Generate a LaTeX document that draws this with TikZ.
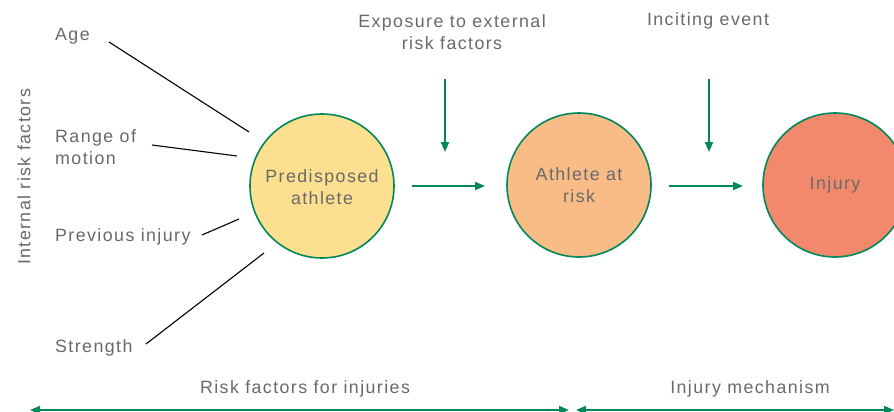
\documentclass[tikz,border=0pt]{standalone}
\usepackage{fontspec}
\setmainfont[LetterSpace=8]{Liberation Sans}
\usetikzlibrary{arrows.meta}
\definecolor{ggreen}{RGB}{0,135,90}
\definecolor{tgray}{RGB}{105,105,108}
\definecolor{cyellow}{RGB}{252,224,143}
\definecolor{corange}{RGB}{249,188,135}
\definecolor{csalmon}{RGB}{243,137,108}
\tikzset{
  lbl/.style={inner sep=0pt, text=tgray, font=\fontsize{17.8}{22}\selectfont, align=left},
  clbl/.style={lbl, align=center},
  stage/.style={circle, draw=ggreen, line width=1.6pt, minimum size=144pt, inner sep=0pt, text=tgray, font=\fontsize{17.8}{22}\selectfont, align=center},
  factor/.style={draw=black, line width=1.1pt},
  flow/.style={draw=ggreen, line width=1.8pt, -{Triangle[length=10pt,width=8pt]}},
  span/.style={draw=ggreen, line width=1.8pt, {Triangle[length=10pt,width=8pt]}-{Triangle[length=10pt,width=8pt]}}
}
\begin{document}
\begin{tikzpicture}[x=1pt,y=-1pt]
\useasboundingbox (0,0) rectangle (894,412);
% stages
\node[stage, fill=cyellow] (pa) at (322,186) {\strut Predisposed\\athlete};
\node[stage, fill=corange] (ar) at (579,185) {Athlete at\\risk};
\node[stage, fill=csalmon] (inj) at (835,185) {Injury};
% labels
\node[lbl, anchor=west] (age) at (55,36.5) {Age};
\node[lbl, anchor=west] (rom) at (55,147) {Range of\\motion};
\node[lbl, anchor=west] (prev) at (55,236.5) {Previous injury};
\node[lbl, anchor=west] (str) at (55,347.5) {Strength};
\node[lbl, rotate=90] (irf) at (24,177) {Internal risk factors};
\node[clbl] (ext) at (452,32) {Exposure to external\\risk factors};
\node[clbl] (inc) at (708,21) {Inciting event};
\node[clbl] (rfi) at (305,389) {Risk factors for injuries};
\node[clbl] (mech) at (750,389) {Injury mechanism};
% factor line endpoints
\coordinate (a1) at (109,42); \coordinate (a2) at (249,132);
\coordinate (r1) at (152,145); \coordinate (r2) at (237,156);
\coordinate (p1) at (202,235); \coordinate (p2) at (239,219);
\coordinate (s1) at (146,344); \coordinate (s2) at (264,253);
\draw[factor] (a1) -- (a2);
\draw[factor] (r1) -- (r2);
\draw[factor] (p1) -- (p2);
\draw[factor] (s1) -- (s2);
% flow arrows
\coordinate (e1) at (445,79); \coordinate (e2) at (445,152);
\coordinate (i1) at (709,79); \coordinate (i2) at (709,152);
\coordinate (h1) at (412,186); \coordinate (h2) at (485,186);
\coordinate (k1) at (669,186); \coordinate (k2) at (743,186);
\draw[flow] (e1) -- (e2);
\draw[flow] (i1) -- (i2);
\draw[flow] (h1) -- (h2);
\draw[flow] (k1) -- (k2);
% spans
\coordinate (b1) at (30,410); \coordinate (b2) at (569,410);
\coordinate (c1) at (576,410); \coordinate (c2) at (894,410);
\draw[span] (b1) -- (b2);
\draw[span] (c1) -- (c2);
\end{tikzpicture}
\end{document}
